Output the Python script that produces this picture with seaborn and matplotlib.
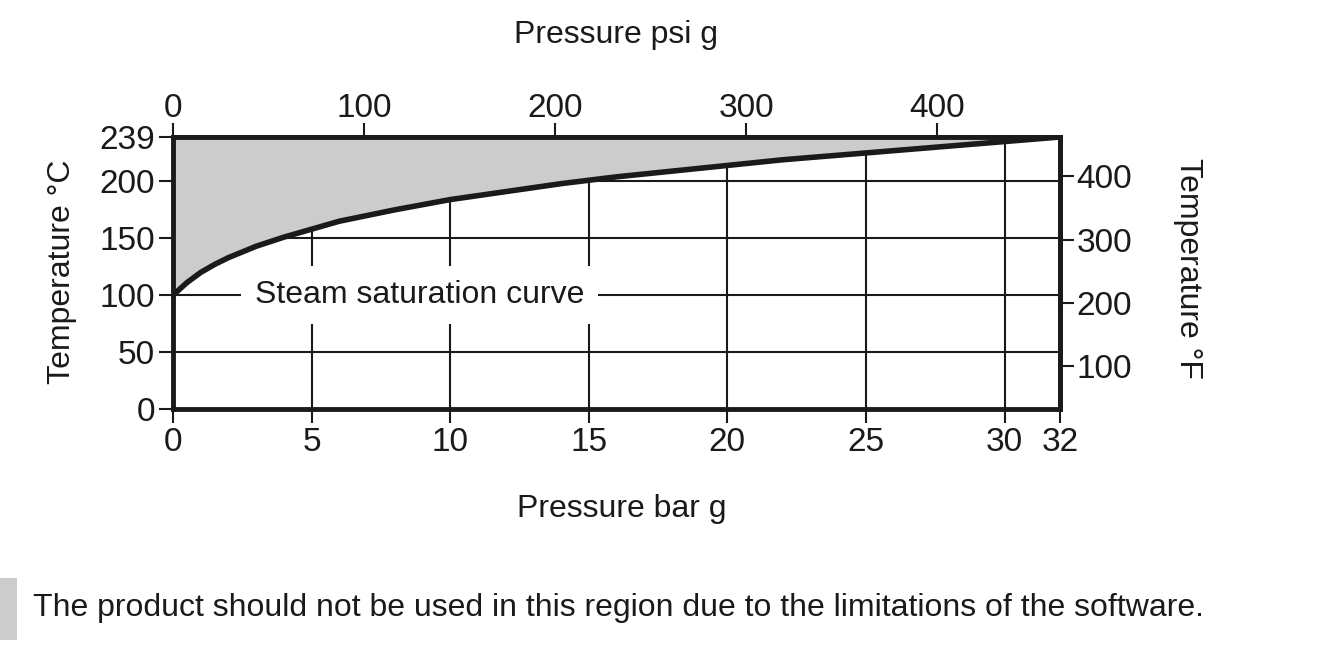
import pandas as pd
import seaborn as sns
import matplotlib.pyplot as plt
from matplotlib.patches import Rectangle

# Steam saturation curve (bar g -> deg C)
bar_g = [0, 0.5, 1, 1.5, 2, 3, 4, 5, 6, 7, 8, 10, 12, 14, 16, 18, 20, 22, 24,
         26, 28, 30, 32]
temp_c = [100, 111, 120, 127, 133, 143, 151, 158, 165, 170, 175, 184, 191,
          198, 204, 209, 214, 219, 223, 227, 231, 235, 239]

bar_ticks = [0, 5, 10, 15, 20, 25, 30, 32]
bar_grid = [5, 10, 15, 20, 25, 30]
c_ticks = [0, 50, 100, 150, 200, 239]
c_grid = [50, 100, 150, 200]
psi_ticks = [0, 100, 200, 300, 400]
f_ticks = [100, 200, 300, 400]

PSI_PER_BAR = 14.5038
INK = '#1a1a1a'
GREY = '#cccccc'
TICK_FS = 24
TEXT_FS = 23

sns.set_style('white')
plt.rcParams['font.family'] = ['Liberation Sans', 'DejaVu Sans']

df = pd.DataFrame({'bar': bar_g, 'temp': temp_c})

fig = plt.figure(figsize=(13.2, 6.5), dpi=100)
ax = fig.add_axes([173 / 1320, 1 - 409 / 650, 887 / 1320, 272 / 650])

# grid first, then the forbidden region on top of it
for x in bar_grid:
    ax.axvline(x, color=INK, lw=1.5, zorder=1)
for y in c_grid:
    ax.axhline(y, color=INK, lw=1.5, zorder=1)

ax.fill_between(df['bar'], df['temp'], 239, color=GREY, lw=0, zorder=2)
sns.lineplot(data=df, x='bar', y='temp', ax=ax, color=INK, lw=4, zorder=3,
             solid_joinstyle='round')

ax.text(8.9, 100, 'Steam saturation curve', ha='center', va='center',
        fontsize=TEXT_FS, color=INK, zorder=4,
        bbox=dict(fc='white', ec='none', pad=10))

ax.set_xlim(0, 32)
ax.set_ylim(0, 239)
ax.set_xticks(bar_ticks)
ax.set_yticks(c_ticks)
ax.set_xlabel('')
ax.set_ylabel('')
ax.tick_params(direction='out', length=10, width=1.5, colors=INK,
               labelsize=TICK_FS, pad=3, bottom=True, left=True)
for s in ax.spines.values():
    s.set_linewidth(3.5)
    s.set_color(INK)
    s.set_zorder(5)

# secondary scales
top = ax.secondary_xaxis('top', functions=(lambda b: b * PSI_PER_BAR,
                                           lambda p: p / PSI_PER_BAR))
top.set_xticks(psi_ticks)
top.tick_params(direction='out', length=10, width=1.5, colors=INK,
                labelsize=TICK_FS, pad=-1)
top.spines['top'].set_linewidth(3.5)
top.spines['top'].set_color(INK)

right = ax.secondary_yaxis('right', functions=(lambda c: c * 9 / 5 + 32,
                                               lambda f: (f - 32) * 5 / 9))
right.set_yticks(f_ticks)
right.tick_params(direction='out', length=10, width=1.5, colors=INK,
                  labelsize=TICK_FS, pad=2)
right.spines['right'].set_linewidth(3.5)
right.spines['right'].set_color(INK)

# axis titles
fig.text(616 / 1320, 1 - 35 / 650, 'Pressure psi g', ha='center', va='center',
         fontsize=TEXT_FS, color=INK)
fig.text(622 / 1320, 1 - 509 / 650, 'Pressure bar g', ha='center', va='center',
         fontsize=TEXT_FS, color=INK)
fig.text(62 / 1320, 1 - 272 / 650, 'Temperature °C', ha='center', va='center',
         rotation=90, fontsize=TEXT_FS, color=INK)
fig.text(1188 / 1320, 1 - 268 / 650, 'Temperature °F', ha='center', va='center',
         rotation=270, fontsize=TEXT_FS, color=INK)

# footer note
fig.patches.append(Rectangle((0, 1 - 640 / 650), 17 / 1320, 62 / 650,
                             transform=fig.transFigure, color=GREY, lw=0))
fig.text(33 / 1320, 1 - 608 / 650,
         'The product should not be used in this region due to the limitations of the software.',
         ha='left', va='center', fontsize=TEXT_FS, color=INK)

fig.savefig('out.png', dpi=100, facecolor='white')
